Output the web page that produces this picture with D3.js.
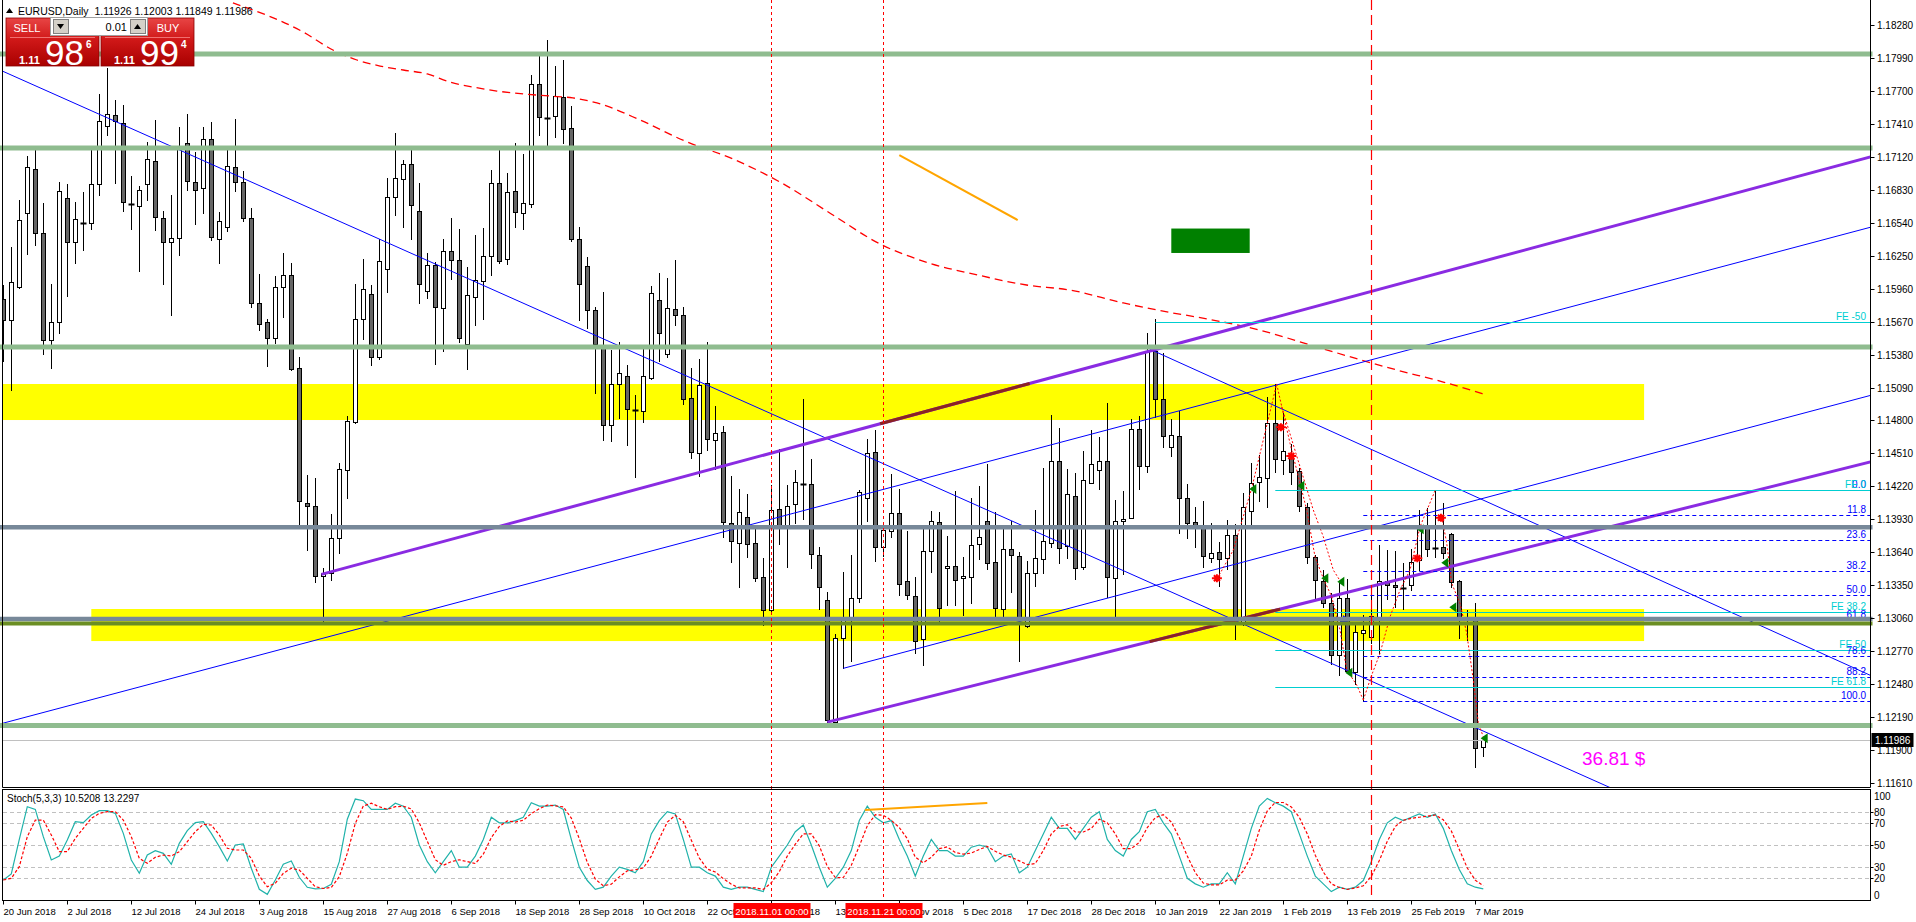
<!DOCTYPE html>
<html><head><meta charset="utf-8">
<script src="https://cdn.jsdelivr.net/npm/d3@7"></script>
<style>
html,body{margin:0;padding:0;background:#fff;}
svg{display:block;font-family:"Liberation Sans",Arial,sans-serif;}
</style></head><body>
<script>
// ---- EURUSD daily candles, 20 Jun 2018 (bar 0) .. 8 Mar 2019 (bar 185)
const open = [1.15865,1.15680,1.15976,1.16623,1.17017,1.16448,1.15505,1.15663,1.16754,1.16374,1.16542,1.16542,1.16885,1.17394,1.17485,1.17414,1.16707,1.16683,1.16885,1.17087,1.16579,1.16367,1.16404,1.17239,1.16896,1.16842,1.17273,1.16394,1.16505,1.17027,1.16896,1.16586,1.15832,1.15663,1.15522,1.15973,1.16084,1.15260,1.14070,1.14050,1.13430,1.13460,1.13770,1.14364,1.14790,1.15690,1.15910,1.15356,1.16136,1.16764,1.16922,1.17054,1.16640,1.15937,1.16168,1.15787,1.16289,1.16209,1.15470,1.15890,1.16025,1.16245,1.16887,1.16218,1.16816,1.16623,1.16705,1.17758,1.17462,1.17476,1.17644,1.17371,1.16394,1.16157,1.15769,1.15452,1.14757,1.15118,1.15188,1.14892,1.14880,1.15174,1.15857,1.15382,1.15778,1.15725,1.14995,1.14511,1.15133,1.14625,1.14696,1.13895,1.13719,1.13951,1.13719,1.13420,1.13129,1.14018,1.13851,1.14062,1.14241,1.14238,1.13613,1.13217,1.12150,1.12883,1.13074,1.13241,1.14115,1.14520,1.13684,1.13825,1.13989,1.13385,1.13256,1.12874,1.13649,1.13904,1.13499,1.13520,1.13414,1.13420,1.13710,1.13913,1.13552,1.13138,1.13666,1.13608,1.12992,1.13455,1.13578,1.13719,1.14440,1.13695,1.14133,1.13508,1.14253,1.14361,1.14440,1.13411,1.13915,1.13939,1.14722,1.14396,1.15408,1.14986,1.14567,1.14660,1.14115,1.13904,1.13871,1.13590,1.13646,1.13587,1.13789,1.13015,1.14000,1.14256,1.14291,1.14775,1.14449,1.14502,1.14352,1.14036,1.13602,1.13385,1.13191,1.12733,1.13235,1.12584,1.12927,1.12898,1.13074,1.13385,1.13349,1.13329,1.13349,1.13572,1.13871,1.13678,1.13684,1.13798,1.13385,1.13059,1.13041,1.11926];
const high = [1.15993,1.16323,1.16741,1.17128,1.17195,1.16710,1.16000,1.16896,1.16885,1.16720,1.16811,1.17195,1.17673,1.17902,1.17619,1.17572,1.16953,1.16862,1.17249,1.17444,1.16643,1.16784,1.17380,1.17498,1.17162,1.17384,1.17428,1.16636,1.17182,1.17454,1.16997,1.16667,1.16087,1.15693,1.16067,1.16273,1.16185,1.15355,1.14320,1.14290,1.13500,1.13980,1.14430,1.14840,1.16001,1.16221,1.15989,1.16394,1.16931,1.17330,1.17092,1.17180,1.16887,1.16271,1.16192,1.16394,1.16579,1.16482,1.16148,1.16429,1.16491,1.17001,1.17204,1.16975,1.17239,1.17142,1.17840,1.18022,1.18148,1.17919,1.17972,1.17567,1.16500,1.16236,1.15796,1.15928,1.15420,1.15488,1.15285,1.15021,1.15444,1.15980,1.16098,1.16051,1.16212,1.15796,1.15259,1.15341,1.15491,1.14927,1.14748,1.14308,1.14197,1.14153,1.13863,1.13593,1.14232,1.14546,1.14232,1.14364,1.14989,1.14458,1.13687,1.13291,1.12921,1.13467,1.13616,1.14188,1.14634,1.14713,1.13900,1.14326,1.14197,1.13827,1.13420,1.13860,1.14003,1.13995,1.13783,1.14179,1.13599,1.14115,1.14223,1.14417,1.13992,1.13860,1.13915,1.13643,1.13563,1.14012,1.14382,1.14845,1.14734,1.14370,1.14335,1.14528,1.14713,1.14655,1.14954,1.14097,1.14179,1.14810,1.14839,1.15573,1.15690,1.15391,1.14810,1.14886,1.14238,1.14042,1.14091,1.13895,1.13728,1.13924,1.13886,1.14159,1.14423,1.14493,1.15004,1.15121,1.14863,1.14593,1.14379,1.14071,1.13613,1.13484,1.13285,1.13367,1.13405,1.13006,1.13088,1.13352,1.13704,1.13660,1.13651,1.13543,1.13669,1.14012,1.14027,1.14188,1.14071,1.13813,1.13396,1.13132,1.13191,1.12003];
const low = [1.15320,1.15067,1.15966,1.16269,1.16340,1.15387,1.15259,1.15566,1.15899,1.16188,1.16296,1.16488,1.16784,1.17313,1.16892,1.16640,1.16488,1.16118,1.16744,1.16478,1.16003,1.15731,1.16252,1.16825,1.16529,1.16630,1.16390,1.16188,1.16471,1.16821,1.16559,1.15801,1.15596,1.15283,1.15485,1.15710,1.15242,1.13873,1.13660,1.13380,1.13010,1.13400,1.13630,1.14120,1.14781,1.15520,1.15285,1.15338,1.15934,1.16611,1.16506,1.16400,1.15831,1.15875,1.15294,1.15415,1.16042,1.15494,1.15250,1.15643,1.15690,1.16077,1.16189,1.16174,1.16506,1.16488,1.16676,1.17315,1.17227,1.17297,1.17245,1.16379,1.15681,1.15617,1.15039,1.14628,1.14622,1.14825,1.14587,1.14306,1.14784,1.15165,1.15326,1.15361,1.15643,1.14948,1.14473,1.14314,1.14540,1.14376,1.13772,1.13552,1.13338,1.13596,1.13391,1.13000,1.13120,1.13710,1.13514,1.13901,1.13930,1.13499,1.13144,1.12135,1.12140,1.12619,1.12687,1.13200,1.13918,1.13566,1.13610,1.13778,1.13264,1.13232,1.12757,1.12651,1.13470,1.13039,1.13173,1.13173,1.13088,1.13197,1.13584,1.13490,1.13050,1.13050,1.13294,1.12681,1.12986,1.13346,1.13455,1.13684,1.13543,1.13587,1.13408,1.13490,1.14247,1.14197,1.13244,1.13065,1.13446,1.13939,1.14200,1.14350,1.14834,1.14564,1.14490,1.13807,1.13763,1.13684,1.13514,1.13552,1.13343,1.13493,1.12874,1.13000,1.13886,1.14094,1.14042,1.14344,1.14329,1.14241,1.14000,1.13543,1.13226,1.13162,1.12657,1.12560,1.12581,1.12481,1.12332,1.12839,1.12751,1.13232,1.13162,1.13144,1.13305,1.13484,1.13610,1.13602,1.13587,1.13338,1.12883,1.12868,1.11748,1.11849];
const close = [1.15680,1.16017,1.16562,1.17027,1.16448,1.15505,1.15663,1.16815,1.16374,1.16572,1.16542,1.16885,1.17434,1.17495,1.17434,1.16720,1.16707,1.16825,1.17098,1.16592,1.16374,1.16404,1.17209,1.16906,1.16825,1.17273,1.16411,1.16552,1.17037,1.16896,1.16579,1.15838,1.15653,1.15522,1.15973,1.16084,1.15249,1.14091,1.14050,1.13430,1.13460,1.13770,1.14370,1.14796,1.15690,1.15954,1.15356,1.16201,1.16764,1.16931,1.17054,1.16693,1.15998,1.16165,1.15796,1.16289,1.16212,1.15523,1.15901,1.16033,1.16245,1.16887,1.16206,1.16808,1.16632,1.16711,1.17758,1.17468,1.17462,1.17652,1.17365,1.16394,1.15998,1.15772,1.15473,1.14757,1.15124,1.15215,1.14898,1.14892,1.15188,1.15919,1.15567,1.15787,1.15725,1.14986,1.14520,1.15109,1.14634,1.14687,1.13904,1.13737,1.13995,1.13710,1.13417,1.13129,1.14009,1.13860,1.14050,1.14256,1.14241,1.13622,1.13332,1.12164,1.12883,1.13074,1.13241,1.14168,1.14511,1.13684,1.13833,1.13989,1.13361,1.13261,1.12857,1.13649,1.13913,1.13147,1.13520,1.13393,1.13432,1.13701,1.13772,1.13543,1.13147,1.13666,1.13613,1.13041,1.13455,1.13590,1.13737,1.14440,1.13675,1.14150,1.13502,1.14273,1.14417,1.14440,1.13420,1.13913,1.13930,1.14722,1.14396,1.15411,1.14989,1.14663,1.14669,1.14115,1.13895,1.13866,1.13607,1.13634,1.13581,1.13789,1.13038,1.14039,1.14247,1.14305,1.14775,1.14458,1.14534,1.14347,1.14044,1.13596,1.13393,1.13191,1.12733,1.13235,1.12596,1.12936,1.12953,1.13077,1.13385,1.13349,1.13332,1.13329,1.13552,1.13871,1.13672,1.13678,1.13634,1.13376,1.13059,1.13041,1.11915,1.11986];

// time axis labels (every 8 bars)
const dateLabels = ["20 Jun 2018","2 Jul 2018","12 Jul 2018","24 Jul 2018","3 Aug 2018","15 Aug 2018","27 Aug 2018","6 Sep 2018","18 Sep 2018","28 Sep 2018","10 Oct 2018","22 Oct 2018","1 Nov 2018","13 Nov 2018","23 Nov 2018","5 Dec 2018","17 Dec 2018","28 Dec 2018","10 Jan 2019","22 Jan 2019","1 Feb 2019","13 Feb 2019","25 Feb 2019","7 Mar 2019"];
const priceTicks = d3.range(24).map(i => +(1.18280 - i*0.0029).toFixed(5));

// Stoch(5,3,3) main and signal
const stochK = [18.5,23.9,55,84.5,82.1,57.5,36.5,40.1,54.5,71.0,70.1,77.0,80.9,80.9,78.5,60.5,36.5,24.5,41.0,44.9,42.5,32.6,51.5,62.9,70.1,71.0,60.5,48.5,35.6,50.0,50.9,29.0,10.1,5.6,18.5,32.6,35.6,20.9,11.9,10.4,10.8,14.6,35.0,73.2,91.4,89.9,82.1,82.1,82.1,87.6,
85,75,50,35,25,35,45,30,30,40,55,75,70,70,72,75,88,85,85,86,82,55,30,18,10,12,22,30,28,25,35,60,72,80,78,55,30,30,25,22,12,10,12,12,10,8,30,40,50,62,68,50,30,12,20,30,45,72,85,75,70,72,55,40,22,40,55,45,45,40,40,48,50,48,35,40,42,25,30,45,60,75,65,65,55,65,75,80,55,45,40,55,62,80,82,70,60,40,20,15,12,15,15,25,15,40,65,85,92,88,85,80,60,40,22,15,8,12,10,12,18,35,55,70,75,72,75,78,75,78,65,45,28,15,12,10.52];
const stochD = [18.5,20.0,30.5,57.5,72.5,72.5,59.0,44.0,44.0,56.0,65.0,74.0,78.5,80.0,80.0,72.5,57.5,38.0,33.5,38.9,41.0,40.1,44.0,53.0,62.0,68.6,68.0,59.0,47.0,45.5,45.5,38.0,22.1,12.4,15.5,24.5,29.0,27.5,20.0,12.4,10.8,11.8,21.5,42.5,69.5,85.1,87.6,84.5,82.1,84.5,
84.9,82.5,70,53.3,36.7,31.7,35,36.7,35,33.3,41.7,56.7,66.7,71.7,70.7,72.3,78.3,82.7,86,85.3,84.3,74.3,55.7,34.3,19.3,13.3,14.7,21.3,26.7,27.7,29.3,40,55.7,70.7,76.7,71,54.3,38.3,28.3,25.7,19.7,14.7,11.3,11.3,11.3,10,16,26,40,50.7,60,60,49.3,30.7,20.7,20.7,31.7,49,67.3,77.3,76.7,72.3,65.7,55.7,39,34,39,46.7,48.3,43.3,41.7,42.7,46,48.7,44.3,41,39,35.7,32.3,33.3,45,60,66.7,68.3,61.7,61.7,65,73.3,70,60,46.7,46.7,52.3,65.7,74.7,77.3,70.7,56.7,40,25,15.7,14,14,18.3,18.3,26.7,40,63.3,80.7,88.3,88.3,84.3,75,60,40.7,25.7,15,11.7,10,11.3,13.3,21.7,36,53.3,66.7,72.3,74,75,76,77,72.7,62.7,46,29.3,18.3,13.23];
const stochLevels = [80,70,50,30,20];
const stochAxis = [100,80,70,50,30,20,0];

// moving average (red dashed), read at points along the curve
const maBar = [28.7,37.5,41.2,44.2,47.1,50,53,55.8,58.7,61.7,65,68.3,71.2,74.2,79.6,85.2,91.2,97.3,103.5,109.6,115.7,121.8,127.9,133.3,140,146.2,149.2,157,164.6,174.2,180,185];
const maVal = [1.18474,1.18218,1.18060,1.17972,1.17919,1.17884,1.17849,1.17778,1.17734,1.17699,1.17673,1.17655,1.17638,1.17594,1.17444,1.17259,1.17101,1.16890,1.16617,1.16353,1.16186,1.16080,1.15992,1.15948,1.15834,1.15746,1.15710,1.15596,1.15438,1.15244,1.15138,1.15033];

// horizontal levels
const greenLevels = [1.18025,1.17198,1.15446,1.12116];
const grayLevels = [1.13860,1.13053];
const oliveLevels = [1.13013];
const bidPrice = 1.11986;

// zones: [bar from, bar to, price top, price bottom]
const yellowZones = [[-5,205.1,1.15121,1.14804],[11,205.1,1.13141,1.12859]];
const greenBox = [146,155.8,1.16489,1.16274];

// trend lines: [bar0, price0, bar1, price1, start bar]
const blueLines = [[0,1.17871,150,1.13165,-3],[0,1.12137,200,1.15876,-3],[105,1.12619,200,1.14396,105],[143.3,1.15428,233.3,1.12560,143.3]];
const purpleLines = [[39.76,1.13446,233.3,1.17118,39.76],[103,1.12146,233.3,1.14434,103]];
const brownParts = [[0,109.6,128.3],[1,143.3,159.6]];
const orangeMain = [112,1.17136,126.8,1.16564];
const orangeStoch = [107.7,81.5,123,87.8];

// fibo retracement (blue dashed) and expansion (cyan)
const fiboNames = ["0.0","11.8","23.6","38.2","50.0","61.8","78.6","88.2","100.0"];
const fiboPrices = [1.14188,1.13968,1.13748,1.13475,1.13260,1.13040,1.12729,1.12547,1.12331];
const feNames = ["FE -50","FE 0","FE 38.2","FE 50","FE 61.8"];
const fePrices = [1.15669,1.14188,1.13112,1.12777,1.12452];
const feStart = [144,159,159,159,159];

// vertical lines
const dottedBars = [96,110];
const dottedNames = ["2018.11.01 00:00","2018.11.21 00:00"];
const dashedBars = [171];

// zigzag dotted paths [bar, price]
const zigzags = [
  [[151.75,1.13411],[153.75,1.13660],[156.05,1.14203],[159.17,1.15121]],
  [[159.17,1.15121],[160.84,1.14599],[162.09,1.14247],[162.93,1.14012],[163.96,1.13601],[165.0,1.13411],[166.05,1.13249],[167.09,1.12956],[167.93,1.12604],[169.18,1.12472],[170.0,1.12340]],
  [[159.8,1.14921],[162.09,1.14393],[163.75,1.14012],[165.0,1.13777],[166.25,1.13484],[167.3,1.13367]],
  [[170.0,1.12340],[171.05,1.12560],[172.09,1.12751],[173.34,1.13073],[174.59,1.13308],[175.84,1.13484],[177.09,1.13865],[179.0,1.14188]],
  [[179.8,1.13953],[180.43,1.13719],[181.05,1.13367],[182.09,1.13191],[182.93,1.12927],[183.75,1.12516],[184.38,1.12135],[185.0,1.12017]]
];
const redMarks = [[151.7,1.13411],[159.7,1.14740],[161.0,1.14487],[176.75,1.13587],[179.7,1.13944]];
const greenMarks = [[156.25,1.14197],[162.25,1.14226],[165.25,1.13411],[167.25,1.13381],[168.25,1.12580],[177.17,1.13842],[180.25,1.13548],[181.25,1.13156],[185.17,1.12003]];
const blueMarks = [[167.7,1.13044]];

// ---------------------------------------------------------------
const W = 1916, H = 922;
const RIGHT = 1870.5, MAINB = 787.5, SUBT = 789.5, SUBB = 900.5;
const svg = d3.select("body").append("svg").attr("width", W).attr("height", H);
const x = d3.scaleLinear().domain([0, 185]).range([3.3, 1483.3]);
const y = d3.scaleLinear().domain([1.11610, 1.18280]).range([783, 25]);
const ys = d3.scaleLinear().domain([0, 100]).range([SUBB, SUBT]);
const px = v => Math.round(v) + 0.5;
const FONT = "9.5px";

const defs = svg.append("defs");
defs.append("clipPath").attr("id", "cm").append("rect").attr("x", 3).attr("y", 0).attr("width", RIGHT - 3).attr("height", MAINB);
defs.append("clipPath").attr("id", "cl").append("rect").attr("x", 0).attr("y", 0).attr("width", RIGHT + 2.5).attr("height", MAINB);
defs.append("clipPath").attr("id", "cs").append("rect").attr("x", 3).attr("y", SUBT + 0.5).attr("width", RIGHT - 3).attr("height", SUBB - SUBT - 1);
const grad = defs.append("linearGradient").attr("id", "rg").attr("x1", 0).attr("y1", 0).attr("x2", 0).attr("y2", 1);
grad.append("stop").attr("offset", "0%").attr("stop-color", "#e84545");
grad.append("stop").attr("offset", "45%").attr("stop-color", "#d01818");
grad.append("stop").attr("offset", "100%").attr("stop-color", "#a80000");

const gm = svg.append("g").attr("clip-path", "url(#cm)");
const gl = svg.append("g").attr("clip-path", "url(#cl)");

// background zones
yellowZones.forEach(z => {
  gm.append("rect").attr("x", x(z[0])).attr("y", y(z[2])).attr("width", x(z[1]) - x(z[0])).attr("height", y(z[3]) - y(z[2])).attr("fill", "#ffff00");
});
gm.append("rect").attr("x", x(greenBox[0])).attr("y", y(greenBox[2])).attr("width", x(greenBox[1]) - x(greenBox[0])).attr("height", y(greenBox[3]) - y(greenBox[2])).attr("fill", "#008000");

// candles
const cg = gm.append("g");
open.forEach((o, i) => {
  const cx = px(x(i));
  cg.append("line").attr("x1", cx).attr("x2", cx).attr("y1", Math.round(y(high[i]))).attr("y2", Math.round(y(low[i])) + 1).attr("stroke", "#000");
  const top = Math.round(y(Math.max(o, close[i]))), bot = Math.round(y(Math.min(o, close[i])));
  if (bot - top < 2) {
    cg.append("line").attr("x1", cx - 3).attr("x2", cx + 3).attr("y1", top + 0.5).attr("y2", top + 0.5).attr("stroke", "#000").attr("stroke-width", 2);
  } else {
    cg.append("rect").attr("x", cx - 2).attr("y", top + 0.5).attr("width", 4).attr("height", bot - top)
      .attr("fill", close[i] >= o ? "#fff" : "#666").attr("stroke", "#000");
  }
});

// horizontal levels
greenLevels.forEach(p => gl.append("line").attr("x1", 0).attr("x2", RIGHT + 2).attr("y1", y(p)).attr("y2", y(p)).attr("stroke", "#8fbc8f").attr("stroke-width", 5));
grayLevels.forEach(p => gl.append("line").attr("x1", 0).attr("x2", RIGHT + 2).attr("y1", y(p)).attr("y2", y(p)).attr("stroke", "#778899").attr("stroke-width", 4.5));
oliveLevels.forEach(p => gl.append("line").attr("x1", 0).attr("x2", RIGHT + 2).attr("y1", y(p)).attr("y2", y(p)).attr("stroke", "#6b8e23").attr("stroke-width", 4));
gm.append("line").attr("x1", 0).attr("x2", RIGHT).attr("y1", px(y(bidPrice))).attr("y2", px(y(bidPrice))).attr("stroke", "#c0c0c0");

// moving average
gm.append("path").datum(maBar.map((b, i) => [b, maVal[i]]))
  .attr("d", d3.line().x(d => x(d[0])).y(d => y(d[1])).curve(d3.curveMonotoneX))
  .attr("fill", "none").attr("stroke", "#ff0000").attr("stroke-width", 1.3).attr("stroke-dasharray", "8,5");

// trend lines
const at = (l, b) => l[1] + (l[3] - l[1]) * (b - l[0]) / (l[2] - l[0]);
blueLines.forEach(l => gm.append("line").attr("x1", x(l[4])).attr("y1", y(at(l, l[4]))).attr("x2", x(260)).attr("y2", y(at(l, 260))).attr("stroke", "#0000ff").attr("stroke-width", 1));
purpleLines.forEach(l => gm.append("line").attr("x1", x(l[4])).attr("y1", y(at(l, l[4]))).attr("x2", x(260)).attr("y2", y(at(l, 260))).attr("stroke", "#8a2be2").attr("stroke-width", 3));
brownParts.forEach(s => {
  const l = purpleLines[s[0]];
  gm.append("line").attr("x1", x(s[1])).attr("y1", y(at(l, s[1]))).attr("x2", x(s[2])).attr("y2", y(at(l, s[2]))).attr("stroke", "#8b2323").attr("stroke-width", 3);
});
gm.append("line").attr("x1", x(orangeMain[0])).attr("y1", y(orangeMain[1])).attr("x2", x(orangeMain[2])).attr("y2", y(orangeMain[3])).attr("stroke", "#ffa500").attr("stroke-width", 2);

// fibo
fiboPrices.forEach((p, i) => {
  gm.append("line").attr("x1", x(170)).attr("x2", RIGHT).attr("y1", px(y(p))).attr("y2", px(y(p))).attr("stroke", "#0000ff").attr("stroke-dasharray", "4,3");
});
fePrices.forEach((p, i) => {
  gm.append("line").attr("x1", x(feStart[i])).attr("x2", RIGHT).attr("y1", px(y(p))).attr("y2", px(y(p))).attr("stroke", "#00ced1");
});
fiboPrices.forEach((p, i) => {
  gm.append("text").attr("x", 1866).attr("y", Math.round(y(p)) - 2).attr("text-anchor", "end").attr("font-size", "10px").attr("fill", "#0000ff").text(fiboNames[i]);
});
fePrices.forEach((p, i) => {
  gm.append("text").attr("x", 1866).attr("y", Math.round(y(p)) - 2).attr("text-anchor", "end").attr("font-size", "10px").attr("fill", "#00ced1").text(feNames[i]);
});

// zigzags and markers
zigzags.forEach(z => gm.append("path").datum(z).attr("d", d3.line().x(d => x(d[0])).y(d => y(d[1])))
  .attr("fill", "none").attr("stroke", "#ff0000").attr("stroke-dasharray", "2,2"));
redMarks.forEach(m => {
  const cx = x(m[0]), cy = y(m[1]);
  gm.append("path").attr("d", `M${cx-5},${cy}L${cx+5},${cy}M${cx},${cy-4}L${cx},${cy+4}M${cx-3},${cy-3}L${cx+3},${cy+3}M${cx-3},${cy+3}L${cx+3},${cy-3}`).attr("stroke", "#ff0000").attr("stroke-width", 2);
});
greenMarks.forEach(m => {
  const cx = x(m[0]), cy = y(m[1]);
  gm.append("path").attr("d", `M${cx-4},${cy}L${cx+3},${cy-5}L${cx+3},${cy+5}Z`).attr("fill", "#008000");
});
blueMarks.forEach(m => {
  const cx = x(m[0]), cy = y(m[1]);
  gm.append("path").attr("d", `M${cx+5},${cy}L${cx-2},${cy-5}L${cx-2},${cy-2}L${cx-5},${cy-2}L${cx-5},${cy+2}L${cx-2},${cy+2}L${cx-2},${cy+5}Z`).attr("fill", "#0000ff");
});

// magenta label
svg.append("text").attr("x", 1582).attr("y", 765).attr("font-size", "19px").attr("fill", "#ff00ff").text("36.81 $");

// ---------------- stochastic window
const gs = svg.append("g").attr("clip-path", "url(#cs)");
stochLevels.forEach(v => gs.append("line").attr("x1", 3).attr("x2", RIGHT).attr("y1", px(ys(v))).attr("y2", px(ys(v))).attr("stroke", "#c0c0c0").attr("stroke-dasharray", "4,3"));
gs.append("path").datum(stochK).attr("d", d3.line().x((d, i) => x(i)).y(d => ys(d))).attr("fill", "none").attr("stroke", "#20b2aa").attr("stroke-width", 1.2);
gs.append("path").datum(stochD).attr("d", d3.line().x((d, i) => x(i)).y(d => ys(d))).attr("fill", "none").attr("stroke", "#ff0000").attr("stroke-width", 1.2).attr("stroke-dasharray", "3,2");
gs.append("line").attr("x1", x(orangeStoch[0])).attr("y1", ys(orangeStoch[1])).attr("x2", x(orangeStoch[2])).attr("y2", ys(orangeStoch[3])).attr("stroke", "#ffa500").attr("stroke-width", 2);
svg.append("text").attr("x", 7).attr("y", 802).attr("font-size", "10px").text("Stoch(5,3,3) 10.5208 13.2297");

// vertical lines across both windows
dottedBars.forEach(b => svg.append("line").attr("x1", px(x(b))).attr("x2", px(x(b))).attr("y1", 0).attr("y2", SUBB).attr("stroke", "#ff0000").attr("stroke-dasharray", "3,3"));
dashedBars.forEach(b => svg.append("line").attr("x1", px(x(b))).attr("x2", px(x(b))).attr("y1", 0).attr("y2", SUBB).attr("stroke", "#ff0000").attr("stroke-width", 1.2).attr("stroke-dasharray", "10,5"));

// frames
const fr = svg.append("g").attr("fill", "none").attr("stroke", "#000");
fr.append("path").attr("d", `M2.5,0V${MAINB}H${RIGHT}V0`);
fr.append("rect").attr("x", 2.5).attr("y", SUBT).attr("width", RIGHT - 2.5).attr("height", SUBB - SUBT);

// price axis
priceTicks.forEach(p => {
  const yy = Math.round(y(p)) + 0.5;
  svg.append("line").attr("x1", RIGHT).attr("x2", RIGHT + 4).attr("y1", yy).attr("y2", yy).attr("stroke", "#000");
  svg.append("text").attr("x", 1877).attr("y", yy + 3.5).attr("font-size", "10px").text(p.toFixed(5));
});
const by = Math.round(y(bidPrice));
svg.append("rect").attr("x", RIGHT + 1).attr("y", by - 7).attr("width", 42).attr("height", 14).attr("fill", "#000");
svg.append("text").attr("x", 1875).attr("y", by + 3.5).attr("font-size", "10px").attr("fill", "#fff").text(bidPrice.toFixed(5));

// stoch axis
stochAxis.forEach(v => {
  const yy = Math.round(ys(v)) + 0.5;
  if (v > 0 && v < 100) svg.append("line").attr("x1", RIGHT).attr("x2", RIGHT + 3).attr("y1", yy).attr("y2", yy).attr("stroke", "#000");
  const ty = Math.min(Math.max(yy, 796), 895);
  svg.append("text").attr("x", 1874).attr("y", ty + 3.5).attr("font-size", "10px").text(v);
});

// time axis
dateLabels.forEach((t, i) => {
  const xx = px(x(i * 8));
  svg.append("line").attr("x1", xx).attr("x2", xx).attr("y1", SUBB).attr("y2", SUBB + 4).attr("stroke", "#000");
  svg.append("text").attr("x", xx).attr("y", 915).attr("font-size", FONT).text(t);
});
dottedBars.forEach((b, i) => {
  const xx = px(x(b));
  svg.append("rect").attr("x", xx - 38).attr("y", 903).attr("width", 77).attr("height", 15).attr("fill", "#ff0000");
  svg.append("text").attr("x", xx + 0.5).attr("y", 914.5).attr("text-anchor", "middle").attr("font-size", FONT).attr("fill", "#fff").text(dottedNames[i]);
});

// header
svg.append("path").attr("d", "M6,13L9.5,8L13,13Z").attr("fill", "#000");
svg.append("text").attr("x", 18).attr("y", 14.5).attr("font-size", "10.5px").attr("xml:space", "preserve").text("EURUSD,Daily  1.11926 1.12003 1.11849 1.11986");

// one-click trading panel
const tp = svg.append("g");
[[6, "SELL", "98", "6"], [101, "BUY", "99", "4"]].forEach(d => {
  const bx = d[0];
  tp.append("rect").attr("x", bx).attr("y", 18).attr("width", 93).attr("height", 48).attr("fill", "url(#rg)").attr("stroke", "#8a0000").attr("stroke-width", 0.8);
  tp.append("line").attr("x1", bx + 4).attr("x2", bx + 89).attr("y1", 37.5).attr("y2", 37.5).attr("stroke", "#f07070");
  tp.append("text").attr("x", bx === 6 ? 27 : 168).attr("y", 32).attr("text-anchor", "middle").attr("font-size", "11px").attr("fill", "#fff").text(d[1]);
  tp.append("text").attr("x", bx + 13).attr("y", 64).attr("font-size", "11px").attr("font-weight", "bold").attr("fill", "#fff").text("1.11");
  tp.append("text").attr("x", bx + 39).attr("y", 65).attr("font-size", "35px").attr("fill", "#fff").text(d[2]);
  tp.append("text").attr("x", bx + 80).attr("y", 48).attr("font-size", "10px").attr("font-weight", "bold").attr("fill", "#fff").text(d[3]);
});
tp.append("rect").attr("x", 50.5).attr("y", 17.5).attr("width", 97).attr("height", 18).attr("fill", "#fff").attr("stroke", "#a0a0a0");
[[53, "M57,24L64,24L60.5,29Z"], [130, "M134,29L141,29L137.5,24Z"]].forEach(d => {
  tp.append("rect").attr("x", d[0] + 0.5).attr("y", 19.5).attr("width", 15).attr("height", 14).attr("fill", "#d4d0c8").attr("stroke", "#808080");
  tp.append("path").attr("d", d[1]).attr("fill", "#000");
});
tp.append("text").attr("x", 127).attr("y", 31).attr("text-anchor", "end").attr("font-size", "11px").text("0.01");
</script>
</body></html>
